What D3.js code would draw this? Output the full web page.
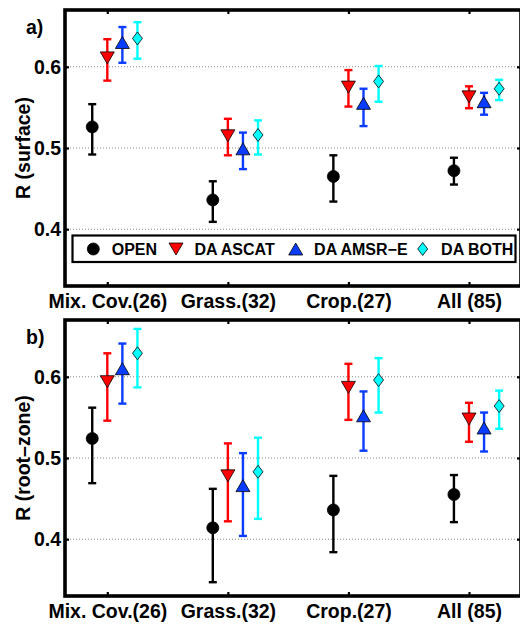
<!DOCTYPE html>
<html><head><meta charset="utf-8">
<script src="https://cdn.jsdelivr.net/npm/d3@7"></script>
<style>
html,body{margin:0;padding:0;background:#fff;}
svg{display:block;}
text{font-family:"Liberation Sans",Arial,Helvetica,sans-serif;font-weight:bold;fill:#000;}
</style></head><body>
<svg id="chart" width="520" height="624"></svg>
<script>
// ---------- data ----------
const categories = ["Mix. Cov.(26)", "Grass.(32)", "Crop.(27)", "All (85)"];
const seriesNames = ["OPEN", "DA ASCAT", "DA AMSR\u2212E", "DA BOTH"];
const seriesColors = ["#000000", "#ff0000", "#0a3cff", "#00ffff"];
const seriesOffsets = [-0.125, 0, 0.125, 0.25];
const yTicks = [0.4, 0.5, 0.6];
const panelLabels = ["a)", "b)"];
const yLabels = ["R (surface)", "R (root\u2013zone)"];

// a) surface
const surfOpen   = [0.526, 0.436, 0.465, 0.472];
const surfOpenLo = [0.492, 0.409, 0.434, 0.455];
const surfOpenHi = [0.554, 0.459, 0.491, 0.488];
const surfAscat   = [0.611, 0.515, 0.575, 0.563];
const surfAscatLo = [0.583, 0.491, 0.551, 0.549];
const surfAscatHi = [0.634, 0.536, 0.596, 0.576];
const surfAmsr   = [0.630, 0.499, 0.555, 0.557];
const surfAmsrLo = [0.605, 0.474, 0.527, 0.541];
const surfAmsrHi = [0.649, 0.519, 0.573, 0.568];
const surfBoth   = [0.635, 0.516, 0.582, 0.573];
const surfBothLo = [0.610, 0.492, 0.557, 0.559];
const surfBothHi = [0.655, 0.534, 0.601, 0.584];

// b) root-zone
const rootOpen   = [0.524, 0.414, 0.436, 0.455];
const rootOpenLo = [0.469, 0.347, 0.384, 0.421];
const rootOpenHi = [0.562, 0.462, 0.478, 0.479];
const rootAscat   = [0.594, 0.478, 0.587, 0.548];
const rootAscatLo = [0.546, 0.422, 0.547, 0.520];
const rootAscatHi = [0.629, 0.518, 0.616, 0.568];
const rootAmsr   = [0.610, 0.466, 0.552, 0.537];
const rootAmsrLo = [0.567, 0.404, 0.509, 0.508];
const rootAmsrHi = [0.641, 0.506, 0.582, 0.556];
const rootBoth   = [0.629, 0.483, 0.596, 0.564];
const rootBothLo = [0.587, 0.425, 0.556, 0.536];
const rootBothHi = [0.659, 0.525, 0.623, 0.583];

const panelsData = [
  [[surfOpen, surfOpenLo, surfOpenHi], [surfAscat, surfAscatLo, surfAscatHi],
   [surfAmsr, surfAmsrLo, surfAmsrHi], [surfBoth, surfBothLo, surfBothHi]],
  [[rootOpen, rootOpenLo, rootOpenHi], [rootAscat, rootAscatLo, rootAscatHi],
   [rootAmsr, rootAmsrLo, rootAmsrHi], [rootBoth, rootBothLo, rootBothHi]]
];

// ---------- layout ----------
const svg = d3.select("#chart");
const frameLeft = 65, frameRight = 521;
const panels = [{top: 10, bottom: 286}, {top: 320, bottom: 596}];
const x = d3.scaleLinear().domain([1, 4]).range([107.3, 469]);
const fontTick = "19.5px";

// marker shapes (bbox-centred like MATLAB)
const triDown = {draw(ctx){ ctx.moveTo(-7,-6); ctx.lineTo(7,-6); ctx.lineTo(0,6); ctx.closePath(); }};
const triUp   = {draw(ctx){ ctx.moveTo(-7,6); ctx.lineTo(7,6); ctx.lineTo(0,-6); ctx.closePath(); }};
const diamond = {draw(ctx){ ctx.moveTo(0,-6.5); ctx.lineTo(5,0); ctx.lineTo(0,6.5); ctx.lineTo(-5,0); ctx.closePath(); }};
const circle  = {draw(ctx){ ctx.moveTo(6,0); ctx.arc(0,0,6,0,2*Math.PI); }};
const symbolTypes = [circle, triDown, triUp, diamond];
const symbolPath = i => d3.symbol().type(symbolTypes[i])();

panels.forEach((p, pi) => {
  const y = d3.scaleLinear().domain([0.33, 0.67]).range([p.bottom, p.top]);
  const g = svg.append("g");

  // gridlines
  g.selectAll("line.grid").data(yTicks).join("line")
    .attr("x1", frameLeft + 2).attr("x2", frameRight - 2)
    .attr("y1", d => y(d)).attr("y2", d => y(d))
    .attr("stroke", "#8a8a8a").attr("stroke-width", 1.1)
    .attr("stroke-dasharray", "1,2");

  // axes (inward ticks)
  const axB = d3.axisBottom(x).tickValues([1,2,3,4]).tickFormat((d,i) => categories[i])
    .tickSizeInner(-4).tickSizeOuter(0).tickPadding(8);
  const axT = d3.axisTop(x).tickValues([1,2,3,4]).tickFormat("").tickSizeInner(-4).tickSizeOuter(0);
  const axL = d3.axisLeft(y).tickValues(yTicks).tickFormat(d3.format(".1f"))
    .tickSizeInner(-4).tickSizeOuter(0).tickPadding(4);
  const axR = d3.axisRight(y).tickValues(yTicks).tickFormat("").tickSizeInner(-4).tickSizeOuter(0);

  [[axB, `translate(0,${p.bottom})`], [axT, `translate(0,${p.top})`],
   [axL, `translate(${frameLeft},0)`], [axR, `translate(${frameRight},0)`]].forEach(([ax, tr]) => {
    const a = g.append("g").attr("transform", tr).call(ax);
    a.select(".domain").remove();
    a.selectAll(".tick line").attr("stroke", "#000").attr("stroke-width", 2.2);
    a.selectAll("text").attr("font-size", fontTick).attr("font-weight", "bold")
      .attr("font-family", '"Liberation Sans", Arial, sans-serif').attr("fill", "#000");
  });

  // frame
  g.append("rect").attr("x", frameLeft).attr("y", p.top)
    .attr("width", frameRight - frameLeft).attr("height", p.bottom - p.top)
    .attr("fill", "none").attr("stroke", "#000").attr("stroke-width", 3.6);

  // series
  panelsData[pi].forEach((s, si) => {
    const [mean, lo, hi] = s;
    const col = seriesColors[si];
    const pts = mean.map((m, i) => ({cx: x(i + 1 + seriesOffsets[si]), m, lo: lo[i], hi: hi[i]}));
    const sg = g.append("g");
    sg.selectAll("line.eb").data(pts).join("line")
      .attr("x1", d => d.cx).attr("x2", d => d.cx)
      .attr("y1", d => y(d.lo)).attr("y2", d => y(d.hi))
      .attr("stroke", col).attr("stroke-width", 2.4);
    ["lo", "hi"].forEach(k => {
      sg.selectAll("line.cap" + k).data(pts).join("line")
        .attr("x1", d => d.cx - 4).attr("x2", d => d.cx + 4)
        .attr("y1", d => y(d[k])).attr("y2", d => y(d[k]))
        .attr("stroke", col).attr("stroke-width", 2.4);
    });
    sg.selectAll("path.mk").data(pts).join("path")
      .attr("d", symbolPath(si))
      .attr("transform", d => `translate(${d.cx},${y(d.m)})`)
      .attr("fill", col).attr("stroke", "#000").attr("stroke-width", 0.8);
  });

  // panel label
  g.append("text").attr("x", 26).attr("y", p.top + 24)
    .attr("font-size", "19.5px").text(panelLabels[pi]);

  // y label
  g.append("text").attr("transform", `translate(29.5,${(p.top + p.bottom) / 2}) rotate(-90)`)
    .attr("text-anchor", "middle").attr("font-size", fontTick).text(yLabels[pi]);
});

// legend (panel a)
const lg = svg.append("g");
lg.append("rect").attr("x", 72.5).attr("y", 235.5).attr("width", 443).attr("height", 26.5)
  .attr("fill", "#fff").attr("stroke", "#000").attr("stroke-width", 2.2);
const legendX = [93.3, 176, 295.7, 422.7];
seriesNames.forEach((name, si) => {
  lg.append("path").attr("d", symbolPath(si))
    .attr("transform", `translate(${legendX[si]},249)`)
    .attr("fill", seriesColors[si]).attr("stroke", "#000").attr("stroke-width", 0.8);
  lg.append("text").attr("x", legendX[si] + 18.4).attr("y", 254.8)
    .attr("font-size", "16px").text(name);
});
</script>
</body></html>
